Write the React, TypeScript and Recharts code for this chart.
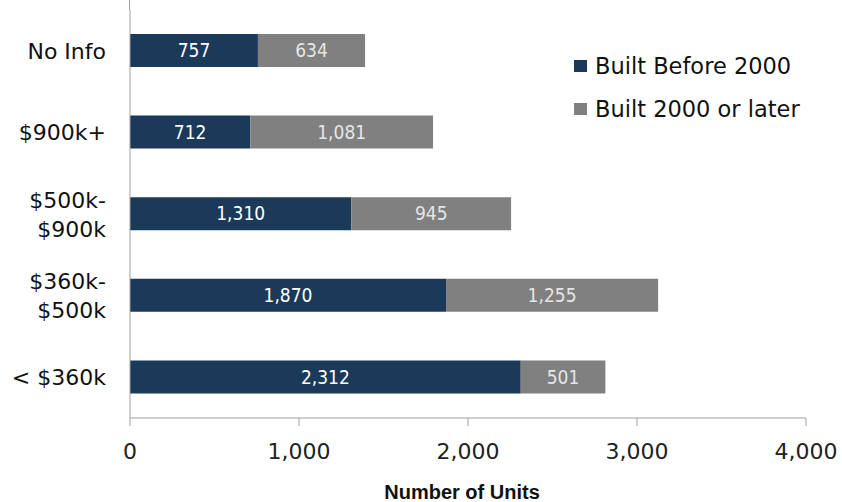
import { BarChart, Bar, XAxis, YAxis, LabelList } from "recharts";

const categories = ["No Info", "$900k+", "$500k-\n$900k", "$360k-\n$500k", "< $360k"];
const builtBefore2000 = [757, 712, 1310, 1870, 2312];
const built2000Later = [634, 1081, 945, 1255, 501];
const xTicks = [0, 1000, 2000, 3000, 4000];

const data = categories.map((c, i) => ({
  name: c,
  before: builtBefore2000[i],
  after: built2000Later[i],
}));

const NAVY = "#1b3a5a";
const GRAY = "#808080";
const WIDE = "'DejaVu Sans', Verdana, sans-serif";
const LABEL_FONT = "'DejaVu Sans Condensed', 'Liberation Sans Narrow', sans-serif";

function CategoryTick({ x, y, payload }: any) {
  const lines = String(payload.value).split("\n");
  const lh = 29;
  const start = -((lines.length - 1) * lh) / 2;
  return (
    <text x={x - 16} y={y} textAnchor="end" fontFamily={WIDE} fontSize={22} fill="#111">
      {lines.map((l, i) => (
        <tspan key={i} x={x - 16} dy={i === 0 ? start + 8 : lh}>
          {l}
        </tspan>
      ))}
    </text>
  );
}

const fmt = (v: any) => Number(v).toLocaleString("en-US");

export default function App() {
  return (
    <div style={{ position: "relative", width: 842, height: 502, background: "#fff", overflow: "hidden" }}>
      <style>{`body{margin:0}`}</style>
      <BarChart
        layout="vertical"
        width={842}
        height={502}
        data={data}
        margin={{ top: 10, right: 36, bottom: 24, left: 0 }}
        barCategoryGap={24}
      >
        <XAxis
          type="number"
          domain={[0, 4000]}
          ticks={xTicks}
          tickFormatter={fmt}
          height={60}
          axisLine={{ stroke: "#a0a0a0" }}
          tickLine={{ stroke: "#a0a0a0" }}
          tickSize={8}
          tick={{ fontFamily: WIDE, fontSize: 22, fill: "#222", dy: 15 }}
        />
        <YAxis
          type="category"
          dataKey="name"
          width={130}
          axisLine={{ stroke: "#a0a0a0" }}
          tickLine={false}
          tick={<CategoryTick />}
        />
        <Bar dataKey="before" stackId="a" fill={NAVY} isAnimationActive={false} barSize={33}>
          <LabelList
            dataKey="before"
            position="center"
            formatter={fmt}
            style={{ fill: "#fff", fontFamily: LABEL_FONT, fontSize: 19 }}
          />
        </Bar>
        <Bar dataKey="after" stackId="a" fill={GRAY} isAnimationActive={false} barSize={33}>
          <LabelList
            dataKey="after"
            position="center"
            formatter={fmt}
            style={{ fill: "#e6e6e6", fontFamily: LABEL_FONT, fontSize: 19 }}
          />
        </Bar>
      </BarChart>
      <div style={{ position: "absolute", left: 129, top: 0, width: 1, height: 10, background: "#a0a0a0" }} />
      <div style={{ position: "absolute", left: 574, top: 51, fontFamily: WIDE, fontSize: 22.5, color: "#111" }}>
        <div style={{ display: "flex", alignItems: "center", height: 30 }}>
          <span style={{ width: 13, height: 12, background: NAVY, marginRight: 8, display: "inline-block" }} />
          Built Before 2000
        </div>
        <div style={{ display: "flex", alignItems: "center", height: 30, marginTop: 13 }}>
          <span style={{ width: 13, height: 12, background: GRAY, marginRight: 8, display: "inline-block" }} />
          Built 2000 or later
        </div>
      </div>
      <div
        style={{
          position: "absolute",
          left: 0,
          width: 924,
          top: 481,
          textAlign: "center",
          fontFamily: "'Liberation Sans', Arial, sans-serif",
          fontWeight: "bold",
          fontSize: 20,
          color: "#111",
        }}
      >
        Number of Units
      </div>
    </div>
  );
}
